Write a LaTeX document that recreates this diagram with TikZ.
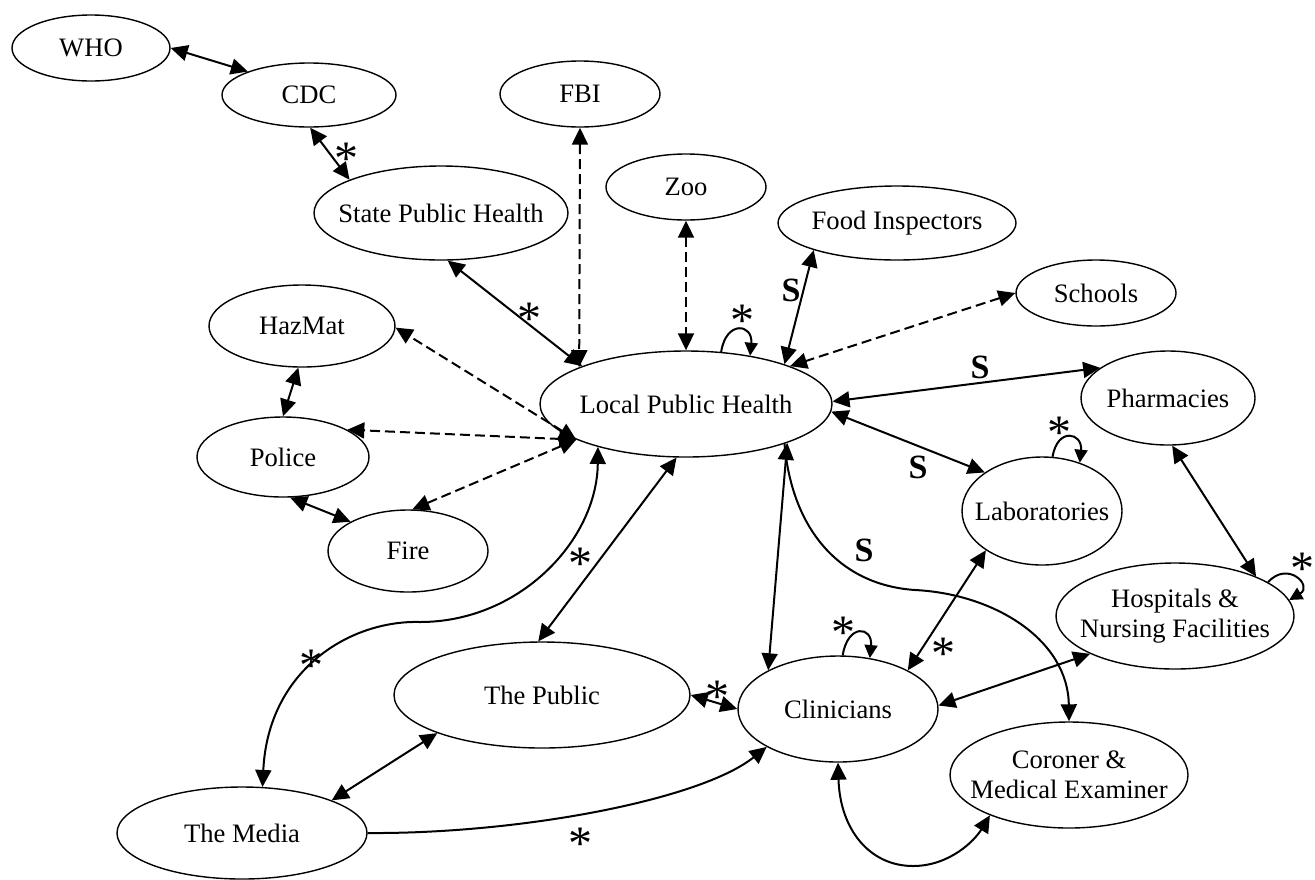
\documentclass[tikz,border=0pt]{standalone}
\usepackage{fontspec}
\setmainfont{Liberation Serif}
\usetikzlibrary{arrows.meta,shapes.geometric}
% asterisk mark centred on its reference point
\newcommand\starmark{\smash{\raisebox{-0.47em}{*}}}

\begin{document}
\begin{tikzpicture}[x=0.5pt,y=-0.5pt,
  ent/.style={draw, ellipse, line width=0.7pt, inner sep=0pt},
  txt/.style={font=\fontsize{13.3}{15}\selectfont, align=center, inner sep=0pt},
  tip/.tip={Triangle[length=8.5pt,width=8pt]},
  smalltip/.tip={Triangle[length=6.5pt,width=6.5pt]},
  link/.style={line width=1pt, tip-tip},
  oneway/.style={line width=1pt, -tip},
  loose/.style={dash pattern=on 5pt off 2.5pt},
  loopy/.style={line width=1pt, -smalltip},
  star/.style={font=\fontsize{24}{24}\selectfont, inner sep=0pt},
  sflag/.style={font=\fontsize{17}{17}\selectfont\bfseries, inner sep=0pt}]

\useasboundingbox (0,0) rectangle (1315,879);

% agencies
\node[ent, minimum width=79pt,  minimum height=33pt, label={[txt]center:WHO}] (who) at (91,48) {};
\node[ent, minimum width=87pt,  minimum height=32pt, label={[txt]center:CDC}] (cdc) at (309,95) {};
\node[ent, minimum width=80pt,  minimum height=33pt, label={[txt]center:FBI}] (fbi) at (580,94) {};
\node[ent, minimum width=80pt,  minimum height=33pt, label={[txt]center:Zoo}] (zoo) at (686,187) {};
\node[ent, minimum width=127pt, minimum height=47pt, label={[txt]center:State Public Health}] (sph) at (441,213) {};
\node[ent, minimum width=119pt, minimum height=37pt, label={[txt]center:Food Inspectors}] (food) at (897,223) {};
\node[ent, minimum width=80pt,  minimum height=33pt, label={[txt]center:Schools}] (schools) at (1096,293) {};
\node[ent, minimum width=93pt,  minimum height=41pt, label={[txt]center:HazMat}] (hazmat) at (302,326) {};
\node[ent, minimum width=86pt,  minimum height=40pt, label={[txt]center:Police}] (police) at (283,457) {};
\node[ent, minimum width=80pt,  minimum height=41pt, label={[txt]center:Fire}] (fire) at (408,551) {};
\node[ent, minimum width=146pt, minimum height=53pt, label={[txt]center:Local Public Health}] (lph) at (686,404) {};
\node[ent, minimum width=87pt,  minimum height=47pt, label={[txt]center:Pharmacies}] (pharm) at (1168,398) {};
\node[ent, minimum width=80pt,  minimum height=54pt, label={[txt]center:Laboratories}] (labs) at (1042,511) {};
\node[ent, minimum width=119pt, minimum height=53pt, label={[txt]center:Hospitals \&\\Nursing Facilities}] (hosp) at (1175,616) {};
\node[ent, minimum width=100pt, minimum height=53pt, label={[txt]center:Clinicians}] (clin) at (838,709) {};
\node[ent, minimum width=119pt, minimum height=53pt, label={[txt]center:Coroner \&\\Medical Examiner}] (coroner) at (1069,775) {};
\node[ent, minimum width=148pt, minimum height=53pt, label={[txt]center:The Public}] (public) at (542,695) {};
\node[ent, minimum width=125pt, minimum height=46pt, label={[txt]center:The Media}] (media) at (242,833) {};

% upper chain
\draw[link] (who.0) -- (cdc.159);
\draw[link] (cdc.272) -- (sph.160);
\node[star] (k1) at (346,152) {\starmark};
\draw[link] (sph.278) -- (lph.160);
\node[star] (k2) at (529,312) {\starmark};
\draw[link,loose] (fbi.270) -- (lph.161);
\draw[link,loose] (zoo.270) -- (lph.90);
\draw[loopy] (lph.56) .. controls +(5,-32) and +(3,-32) .. (lph.37);
\node[star] (k3) at (742,314) {\starmark};

% right side
\draw[link] (food.198) -- (lph.22);
\node[sflag] (s1) at (791,290) {S};
\draw[link,loose] (schools.180) -- (lph.20);
\draw[link] (pharm.156) -- (lph.1);
\node[sflag] (s2) at (980,367) {S};
\draw[link] (lph.-3) -- (labs.146);
\node[sflag] (s3) at (918,467) {S};
\draw[loopy] (labs.79) .. controls +(5,-30) and +(3,-30) .. (labs.52);
\node[star] (k4) at (1059,426) {\starmark};
\draw[link] (pharm.275) -- (hosp.26);
\draw[loopy] (hosp.20) .. controls +(20,-22) and +(24,-14) .. (hosp.8);
\node[star] (k5) at (1302,562) {\starmark};

% clinicians
\draw[link] (labs.215) -- (clin.29);
\node[star] (k6) at (943,647) {\starmark};
\draw[loopy] (clin.85) .. controls +(5,-32) and +(3,-32) .. (clin.58);
\node[star] (k7) at (843,626) {\starmark};
\draw[link] (lph.-21) -- (clin.151);
\draw[oneway] (lph.-22) .. controls (792,530) and (840,585) .. (915,590)
                        .. controls (995,594) and (1068,640) .. (coroner.90);
\node[sflag] (s4) at (864,550) {S};
\draw[link] (clin.2) -- (hosp.204);
\draw[link] (clin.270) .. controls (840,830) and (870,866) .. (913,866)
                       .. controls (950,866) and (975,840) .. (coroner.207);
\draw[link] (public.0) -- (clin.180);
\node[star] (k8) at (717,690) {\starmark};

% public and media
\draw[link] (lph.260) -- (public.94);
\node[star] (k9) at (580,557) {\starmark};
\draw[link] (lph.206) .. controls (597,540) and (520,622) .. (420,622)
                      .. controls (350,620) and (268,670) .. (media.66);
\node[star] (k10) at (311,659) {\starmark};
\draw[link] (media.20) -- (public.200);
\draw[oneway] (media.0) .. controls (520,834) and (700,800) .. (clin.208);
\node[star] (k11) at (580,837) {\starmark};

% emergency services
\draw[link] (hazmat.265) -- (police.90);
\draw[link] (police.280) -- (fire.153);
\draw[link,loose] (lph.198) -- (hazmat.359);
\draw[link,loose] (lph.198) -- (police.23);
\draw[link,loose] (lph.198) -- (fire.84);
\end{tikzpicture}
\end{document}
